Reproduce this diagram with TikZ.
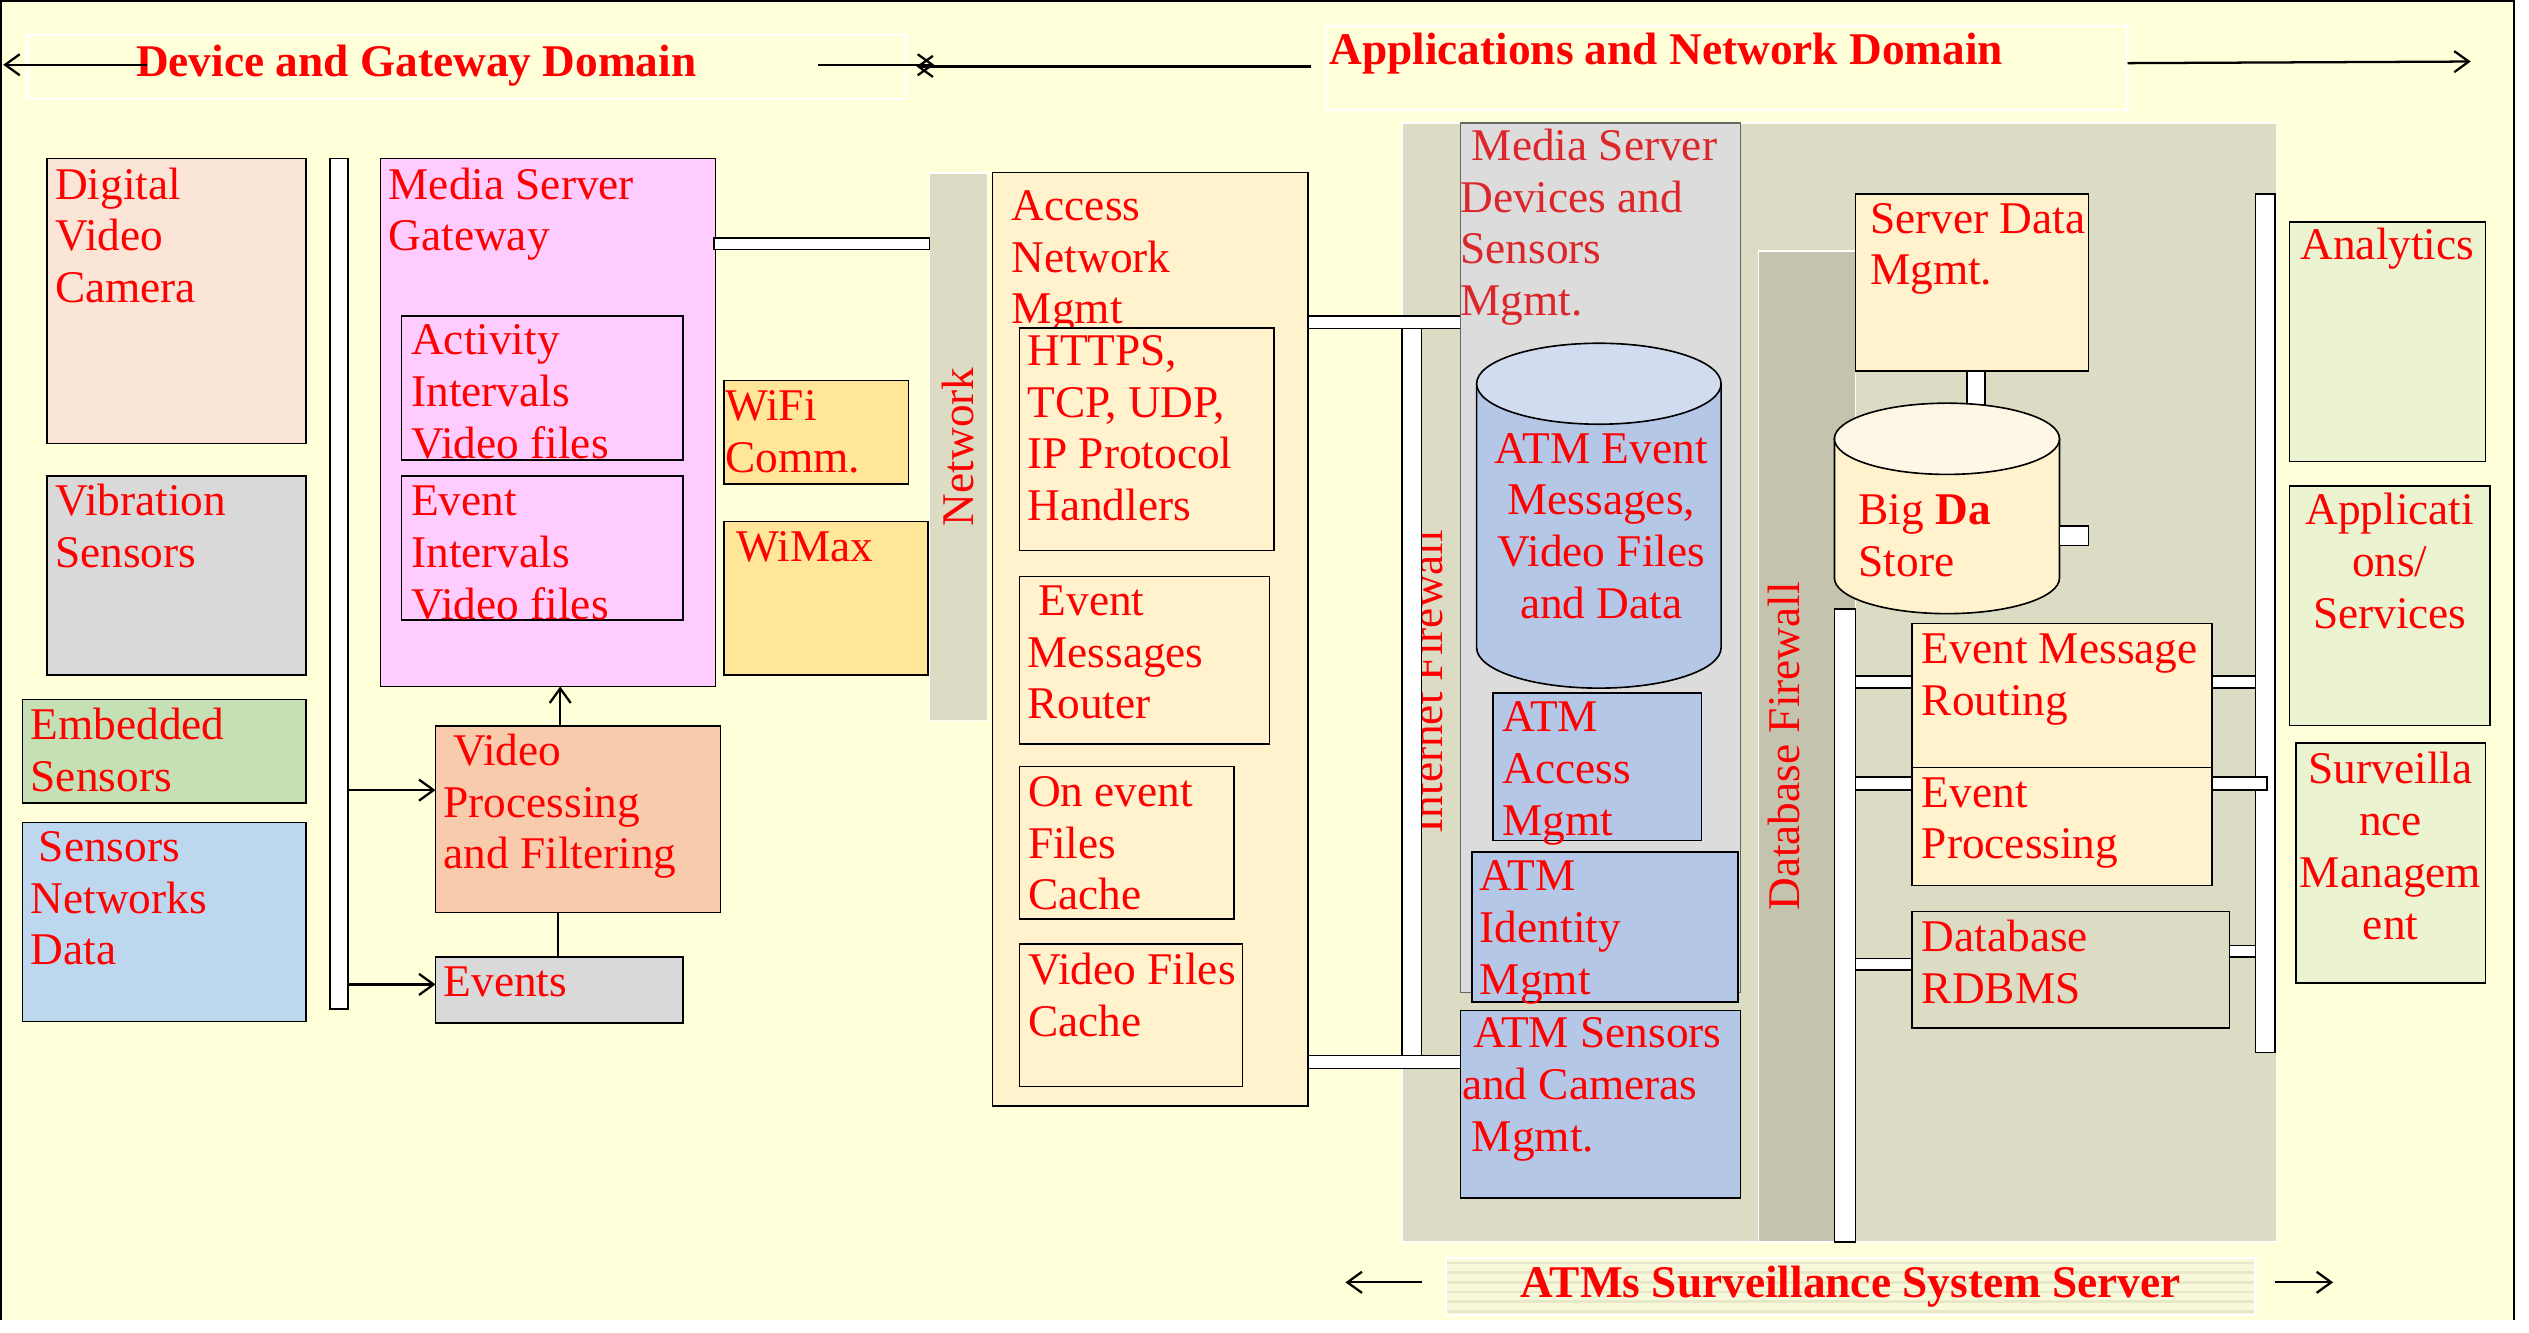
\documentclass[tikz,border=0pt]{standalone}
\usepackage{fontspec}
\setmainfont{Liberation Serif}
\usetikzlibrary{fit,arrows.meta,calc}
\definecolor{bgy}{RGB}{255,255,217}
\definecolor{olive}{RGB}{220,220,196}
\definecolor{olived}{RGB}{196,195,174}
\definecolor{peach}{RGB}{251,229,214}
\definecolor{lgray}{RGB}{217,217,217}
\definecolor{mgray}{RGB}{220,220,220}
\definecolor{egreen}{RGB}{197,224,180}
\definecolor{lblue}{RGB}{189,215,238}
\definecolor{pink}{RGB}{255,204,255}
\definecolor{vproc}{RGB}{248,203,173}
\definecolor{gold}{RGB}{255,230,153}
\definecolor{beige}{RGB}{255,242,204}
\definecolor{beigel}{RGB}{255,247,230}
\definecolor{atmblue}{RGB}{180,199,231}
\definecolor{atmbluel}{RGB}{209,220,240}
\definecolor{appgreen}{RGB}{236,243,208}
\definecolor{crimson}{RGB}{220,38,42}
\definecolor{stripe}{RGB}{232,232,200}
\definecolor{stripebg}{RGB}{248,248,218}
\newcommand\fs{\fontsize{28}{32}\selectfont}
\newcommand\fsb{\fontsize{28}{32}\selectfont\bfseries}
\newcommand\st{\rule{0pt}{22pt}}
\newcommand\bx[3]{\node[#1, fit={#3}] (#2) {};}
\newcommand\tx[4][txt]{\node[#1] (#2) at ($(#3)+(0,-22)$) {\st #4};}
\tikzset{
  box/.style={draw=black, line width=1pt, inner sep=0pt, outer sep=0pt},
  wbar/.style={draw=black, fill=white, line width=1pt, inner sep=0pt, outer sep=0pt},
  region/.style={draw=white, line width=1pt, inner sep=0pt, outer sep=0pt},
  txt/.style={inner sep=0pt, outer sep=0pt, anchor=north west, align=left, text=red, font=\fs},
  ctxt/.style={txt, anchor=north, align=center},
  ttl/.style={txt, font=\fsb},
  rtxt/.style={inner sep=0pt, outer sep=0pt, rotate=90, anchor=base, text=red, font=\fs},
  arr/.style={-{Straight Barb[length=9pt,width=13pt]}, line width=1.4pt},
  plain/.style={line width=1.3pt}
}
\begin{document}
\begin{tikzpicture}[x=1pt,y=-1pt]
\useasboundingbox (0,0) rectangle (1562,823);
% background
\fill[bgy] (0,0) rectangle (1553,815);
\draw[line width=1.2pt] (0.6,815) -- (0.6,0.6) -- (1553,0.6) -- (1553,815);

% ---------- titles ----------
\bx{region, line width=1.5pt}{t1}{(17,21.5) (559.5,61)}
\tx[ttl]{t1t}{84,47}{Device and Gateway Domain}
\coordinate (a1s) at (91,40); \coordinate (a1e) at (2,40);
\coordinate (a2s) at (505,40); \coordinate (a2e) at (577,40);
\coordinate (a3s) at (810,41); \coordinate (a3e) at (566,41);
\draw[arr] (a1s) -- (a1e);
\draw[arr] (a2s) -- (a2e);
\draw[arr] (a3s) -- (a3e);
\bx{region, line width=1.5pt}{t2}{(819,16) (1314,68)}
\tx[ttl]{t2t}{821,40}{Applications and Network Domain}
\coordinate (a4e) at (1526,38);
\draw[arr] (t2.east |- 0,39) -- (a4e);

% bottom title (striped)
\begin{scope}
\clip (893,777) rectangle (1393,812);
\fill[stripebg] (893,777) rectangle (1393,812);
\foreach \yy in {780,786,...,812} \draw[stripe, line width=1.6pt] (893,\yy) -- (1393,\yy);
\end{scope}
\bx{region, line width=1.5pt}{t3}{(893,777) (1393,812)}
\tx[ttl, anchor=north]{t3t}{1143,801.6}{ATMs Surveillance System Server}
\coordinate (a5s) at (878,792); \coordinate (a5e) at (831,792);
\coordinate (a6s) at (1405,792); \coordinate (a6e) at (1441,792);
\draw[arr] (a5s) -- (a5e);
\draw[arr] (a6s) -- (a6e);

% ---------- device domain ----------
\bx{box, fill=peach}{dvc}{(29,98) (189,274)}
\tx{dvct}{34,123}{Digital\\Video\\Camera}
\bx{box, fill=lgray}{vib}{(29,294) (189,417)}
\tx{vibt}{34,318.5}{Vibration\\Sensors}
\bx{box, fill=egreen}{emb}{(14,432) (189,496)}
\tx{embt}{19,457}{Embedded\\Sensors}
\bx{box, fill=lblue}{snd}{(14,508) (189,631)}
\tx{sndt}{19,532}{\hspace{5pt}Sensors\\Networks\\Data}
\bx{wbar}{bar1}{(204,98) (215,623)}

\bx{box, fill=pink}{msg}{(235,98) (442,424)}
\tx{msgt}{240,123}{Media Server\\Gateway}
\bx{box, fill=pink}{act}{(248,195) (422,284)}
\tx{actt}{254,219}{Activity\\Intervals\\Video files}
\bx{box, fill=pink}{evi}{(248,294) (422,383)}
\tx{evit}{254,318.5}{Event\\Intervals\\Video files}

\bx{box, fill=gold}{wifi}{(447,235) (561,299)}
\tx{wifit}{448,260}{WiFi\\Comm.}
\bx{box, fill=gold}{wimax}{(447,322) (573,417)}
\tx{wimaxt}{455,347}{WiMax}

\bx{region, fill=olive}{net}{(574,107) (610,445)}
\node[rtxt] (nett) at (601,276) {Network};
\bx{wbar}{c1}{(441,147) (574,154)}

\bx{box, fill=vproc}{vp}{(269,448.5) (445,563.5)}
\tx{vpt}{274,472.7}{\hspace{6pt}Video\\Processing\\and Filtering}
\bx{box, fill=lgray}{ev}{(269,591) (422,632)}
\tx{evt}{274,615.6}{Events}

\coordinate (yv) at (0,488);
\coordinate (ye) at (0,608);
\coordinate (xu) at (346,0);
\coordinate (xl) at (344.6,0);
\draw[arr] (bar1.east |- yv) -- (vp.west |- yv);
\draw[arr] (bar1.east |- ye) -- (ev.west |- ye);
\draw[arr] (vp.north -| xu) -- (msg.south -| xu);
\draw[plain] (vp.south -| xl) -- (ev.north -| xl);

% ---------- access network ----------
\bx{box, fill=beige}{acc}{(613,106.6) (808,683)}
\tx{acct}{625,136}{Access\\Network\\Mgmt}
\bx{box, fill=beige}{http}{(629.6,202.6) (787,340)}
\tx{httpt}{634.5,225.6}{HTTPS,\\TCP, UDP,\\IP Protocol\\Handlers}
\bx{box, fill=beige}{emr}{(629.6,356) (784,459.5)}
\tx{emrt}{634.5,380}{\hspace{7pt}Event\\Messages\\Router}
\bx{box, fill=beige}{oef}{(629.6,473.5) (762,567.6)}
\tx{oeft}{635,498}{On event\\Files\\Cache}
\bx{box, fill=beige}{vfc}{(629.6,583) (767.5,671)}
\tx{vfct}{635,608}{Video Files\\Cache}

% ---------- server region ----------
\bx{region, fill=olive}{srv}{(866,76) (1406,767)}
\node[rtxt] (ifwt) at (891,421) {Internet Firewall};
\bx{wbar}{ifw}{(866,203) (878,652)}
\bx{wbar}{c2}{(808,195) (902,203)}
\bx{wbar}{c3}{(808,652) (902,660)}

\bx{box, fill=mgray, draw=black!60}{msd}{(902,76) (1075,613)}
\tx[txt, text=crimson]{msdt}{902,99}{\hspace{7pt}Media Server\\Devices and\\Sensors\\Mgmt.}

% cylinder 1
\filldraw[fill=atmblue, line width=1pt] (912,237) -- (912,400)
  arc[start angle=180, end angle=0, x radius=75.5, y radius=25] -- (1063,237) -- cycle;
\filldraw[fill=atmbluel, line width=1pt] (987.5,237) ellipse[x radius=75.5, y radius=25];
\node[inner sep=0pt, fit={(912,212) (1063,425)}] (cyl1) {};
\tx[ctxt]{cyl1t}{989,286}{ATM Event\\Messages,\\Video Files\\and Data}

\bx{box, fill=atmblue}{aam}{(922,428) (1051,519)}
\tx{aamt}{928,452}{ATM\\Access\\Mgmt}
\bx{box, fill=atmblue, line width=1.4pt}{aim}{(909,526) (1073.6,619)}
\tx{aimt}{914,550}{ATM\\Identity\\Mgmt}
\bx{box, fill=atmblue}{asc}{(902,624) (1075,740)}
\tx{asct}{903,647}{\hspace{7pt}ATM Sensors\\and Cameras\\\hspace{6pt}Mgmt.}

% database firewall
\bx{region, fill=olived}{dbf}{(1086,155) (1146,767)}
\node[rtxt] (dbft) at (1111.6,461) {Database Firewall};
\bx{wbar}{dbb}{(1133,376) (1146,767)}

\bx{box, fill=beige}{sdm}{(1146,120) (1290,229)}
\tx{sdmt}{1155,144}{Server Data\\Mgmt.}
\bx{wbar}{c4}{(1215,229) (1226,254)}

% cylinder 2
\filldraw[fill=beige, line width=1pt] (1133,271) -- (1133,357)
  arc[start angle=180, end angle=0, x radius=69.5, y radius=22] -- (1272,271) -- cycle;
\filldraw[fill=beigel, line width=1pt] (1202.5,271) ellipse[x radius=69.5, y radius=22];
\node[inner sep=0pt, fit={(1133,249) (1272,379)}] (cyl2) {};
\tx{cyl2t}{1148,324}{Big \textbf{Da}\\Store}
\bx{wbar}{c5}{(1272,325) (1290,337)}

\bx{box, fill=beige}{emrt2}{(1181,385) (1366,474)}
\tx{emrtt}{1187,410}{Event Message\\Routing}
\bx{box, fill=beige}{ep}{(1181,474) (1366,547)}
\tx{ept}{1187,498.5}{Event\\Processing}
\bx{box}{rdb}{(1181,563) (1377,635)}
\tx{rdbt}{1187,587.5}{Database\\RDBMS}

\bx{wbar}{c6}{(1146,417.5) (1181,425)}
\bx{wbar}{c7}{(1146,480) (1181,488)}
\bx{wbar}{c8}{(1146,592) (1181,599)}
\bx{wbar}{rb}{(1393,120) (1405,650)}
\bx{wbar}{c9}{(1366,417.5) (1393,425)}
\bx{wbar}{c10}{(1366,480) (1400,488)}
\bx{wbar}{c11}{(1377,584) (1393,591)}

% applications
\bx{box, fill=appgreen}{an}{(1414,137) (1535,285)}
\tx[ctxt]{ant}{1474.5,160}{Analytics}
\bx{box, fill=appgreen}{ap}{(1414,300) (1538,448)}
\tx[ctxt]{apt}{1476,324}{Applicati\\ons/\\Services}
\bx{box, fill=appgreen}{sv}{(1418,459) (1535,607)}
\tx[ctxt]{svt}{1476.5,484}{Surveilla\\nce\\Managem\\ent}
\end{tikzpicture}
\end{document}
